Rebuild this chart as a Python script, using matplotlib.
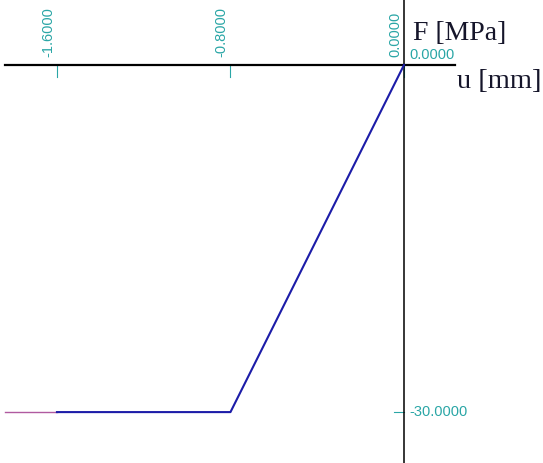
import matplotlib
matplotlib.use("Agg")
import matplotlib.pyplot as plt

# load-displacement path (u in mm, F in MPa)
u_path = [0.0, -0.8, -1.6]
F_path = [0.0, -30.0, -30.0]
u_ext = [-1.6, -1.84]
F_ext = [-30.0, -30.0]

x_ticks = [-1.6, -0.8, 0.0]
y_ticks = [0.0, -30.0]

teal = "#2aa6a6"

fig = plt.figure(figsize=(5.43, 4.63), dpi=100)
ax = fig.add_axes([0, 0, 1, 1])
ax.set_xlim(-1.8626, 0.641)
ax.set_ylim(-34.4, 5.62)
ax.axis("off")

px_x = 1 / 216.9   # mm per pixel
px_y = 1 / 11.57   # MPa per pixel

# axes
ax.plot([-1.84, (455 - 404) * px_x], [0, 0], color="black", lw=1.6, zorder=2)
ax.plot([0, 0], [-34.4, 5.62], color="black", lw=1.1, zorder=2)

# x ticks + rotated labels
for v in x_ticks:
    ax.plot([v, v], [0, -12 * px_y], color=teal, lw=0.8, zorder=1)
    ax.text(v - 2 * px_x, 8 * px_y, f"{v:.4f}", rotation=90, ha="right", va="bottom",
            color=teal, fontsize=10.5, family="Liberation Sans")

# y ticks + labels
for v in y_ticks:
    if v != 0:
        ax.plot([-10 * px_x, 0], [v, v], color=teal, lw=0.8, zorder=1)
    ax.text(5 * px_x, v + (3 * px_y if v == 0 else 0), f"{v:.4f}", ha="left",
            va="bottom" if v == 0 else "center", color=teal, fontsize=10.5,
            family="Liberation Sans")

# curves
ax.plot(u_ext, F_ext, color="#b05aa0", lw=1.0, zorder=3)
ax.plot(u_path, F_path, color="#1c1ca8", lw=1.5, zorder=4)

# axis titles
ax.text(9 * px_x, 25 * px_y, "F [MPa]", ha="left", va="baseline",
        fontsize=20, family="Liberation Serif", color="#15152a")
ax.text(53 * px_x, -23 * px_y, "u [mm]", ha="left", va="baseline",
        fontsize=20.5, family="Liberation Serif", color="#15152a")

fig.savefig("out.png", dpi=100)
